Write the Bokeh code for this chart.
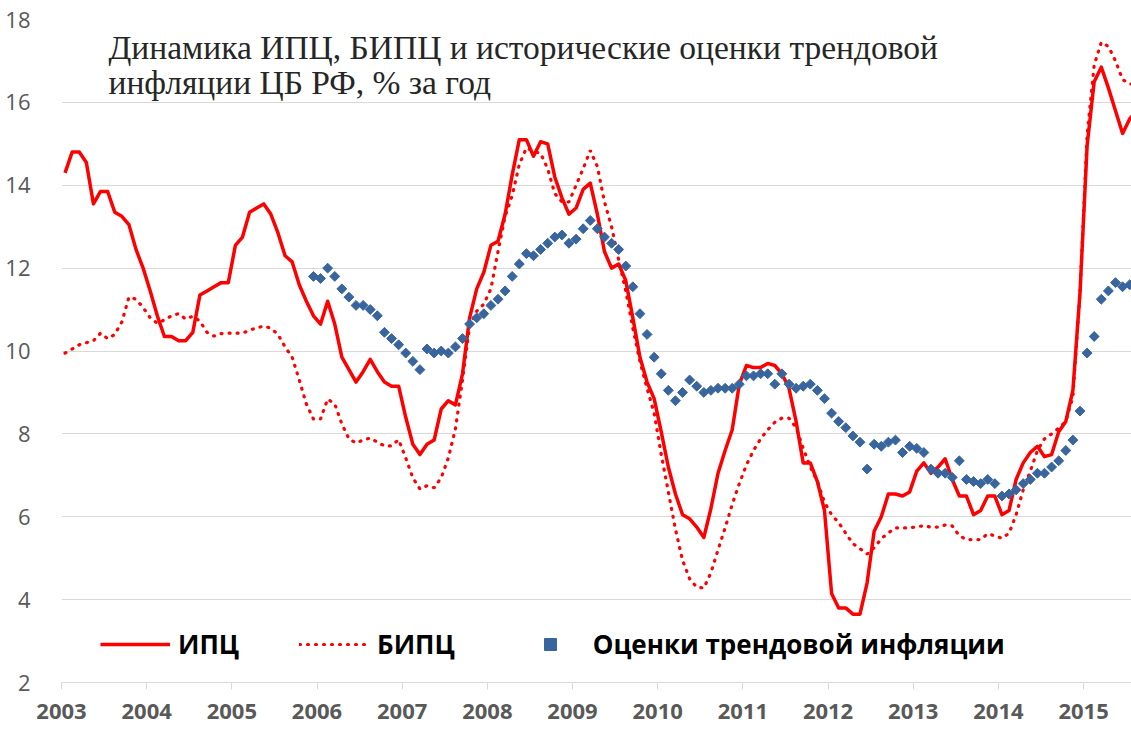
import pandas as pd
from math import pi
from bokeh.plotting import figure
from bokeh.models import FixedTicker, Legend, LegendItem, Label, Range1d
from bokeh.embed import file_html
from bokeh.resources import INLINE

# ---------------- data ----------------
title_lines = ["Динамика ИПЦ, БИПЦ и исторические оценки трендовой",
               "инфляции ЦБ РФ, % за год"]
series_names = ["ИПЦ", "БИПЦ", "Оценки трендовой инфляции"]
year_ticks = [2003, 2004, 2005, 2006, 2007, 2008, 2009, 2010, 2011, 2012, 2013, 2014, 2015]
y_ticks = [2, 4, 6, 8, 10, 12, 14, 16, 18]

cpi_start = "2003-01"      # monthly, ИПЦ and БИПЦ
trend_start = "2005-12"    # monthly, trend estimates

cpi = [
    14.3, 14.8, 14.8, 14.55, 13.55, 13.85, 13.85, 13.35, 13.25, 13.05, 12.45, 12.0,
    11.45, 10.85, 10.35, 10.35, 10.25, 10.25, 10.45, 11.35, 11.45, 11.55, 11.65, 11.65,
    12.55, 12.75, 13.35, 13.45, 13.55, 13.3, 12.85, 12.3, 12.15, 11.6, 11.2, 10.85,
    10.65, 11.2, 10.65, 9.85, 9.55, 9.25, 9.5, 9.8, 9.5, 9.25, 9.15, 9.15,
    8.4, 7.75, 7.5, 7.75, 7.85, 8.6, 8.8, 8.7, 9.45, 10.8, 11.5, 11.9,
    12.55, 12.65, 13.3, 14.25, 15.1, 15.1, 14.7, 15.05, 15.0, 14.2, 13.7, 13.3,
    13.45, 13.9, 14.05, 13.3, 12.4, 12.0, 12.1, 11.7, 10.8, 9.85, 9.25, 8.85,
    8.05, 7.2, 6.55, 6.05, 5.95, 5.75, 5.5, 6.2, 7.05, 7.6, 8.1, 9.2,
    9.65, 9.6, 9.6, 9.7, 9.65, 9.45, 9.1, 8.3, 7.3, 7.3, 6.85, 6.15,
    4.15, 3.8, 3.8, 3.65, 3.65, 4.4, 5.65, 6.0, 6.55, 6.55, 6.5, 6.6,
    7.1, 7.3, 7.05, 7.2, 7.4, 6.9, 6.5, 6.5, 6.05, 6.15, 6.5, 6.5,
    6.05, 6.15, 6.9, 7.3, 7.55, 7.7, 7.45, 7.5, 8.05, 8.3, 9.05, 11.4,
    14.95, 16.5, 16.85, 16.35, 15.8, 15.25, 15.6, 15.8,
]

bcpi = [
    9.95, 10.05, 10.15, 10.2, 10.25, 10.43, 10.3, 10.4, 10.7, 11.3, 11.25, 11.05,
    10.8, 10.67, 10.75, 10.85, 10.9, 10.77, 10.84, 10.72, 10.45, 10.36, 10.42, 10.43,
    10.43, 10.43, 10.5, 10.56, 10.6, 10.55, 10.4, 10.1, 9.85, 9.3, 8.72, 8.36,
    8.36, 8.84, 8.72, 8.24, 7.88, 7.78, 7.85, 7.9, 7.8, 7.71, 7.71, 7.86,
    7.42, 6.94, 6.67, 6.75, 6.7, 6.94, 7.42, 8.12, 9.3, 10.6, 10.96, 11.13,
    11.5, 12.4, 13.25, 13.75, 14.5, 14.9, 14.82, 14.77, 14.4, 13.8, 13.6, 13.6,
    14.0, 14.4, 14.84, 14.45, 13.6, 13.0, 12.2, 11.45, 10.55, 9.75, 9.1, 8.5,
    7.5, 6.6, 5.7, 4.95, 4.5, 4.3, 4.28, 4.65, 5.2, 5.73, 6.3, 6.8,
    7.25, 7.6, 7.88, 8.1, 8.28, 8.38, 8.38, 8.15, 7.65, 7.2, 6.85, 6.35,
    6.05, 5.86, 5.6, 5.35, 5.23, 5.1, 5.25, 5.47, 5.61, 5.73, 5.73, 5.73,
    5.76, 5.78, 5.75, 5.75, 5.8, 5.78, 5.54, 5.45, 5.45, 5.45, 5.59, 5.54,
    5.48, 5.6, 6.05, 6.65, 7.1, 7.6, 7.88, 8.0, 8.14, 8.3, 8.9, 11.4,
    15.2, 16.9, 17.45, 17.35, 17.0, 16.55, 16.45, 16.4,
]

trend = [
    11.8,
    11.75, 12.0, 11.8, 11.5, 11.3, 11.1, 11.1, 11.0, 10.85, 10.45, 10.3, 10.15,
    9.95, 9.75, 9.55, 10.05, 9.95, 10.0, 9.95, 10.1, 10.3, 10.65, 10.8, 10.9,
    11.1, 11.25, 11.45, 11.8, 12.1, 12.35, 12.3, 12.45, 12.6, 12.75, 12.8, 12.6,
    12.7, 12.95, 13.15, 12.95, 12.75, 12.6, 12.45, 12.05, 11.55, 10.9, 10.4, 9.85,
    9.45, 9.05, 8.8, 9.0, 9.3, 9.15, 9.0, 9.05, 9.1, 9.1, 9.1, 9.2,
    9.4, 9.4, 9.45, 9.45, 9.2, 9.45, 9.2, 9.1, 9.15, 9.2, 9.05, 8.85,
    8.5, 8.3, 8.15, 7.95, 7.8, 7.15, 7.75, 7.7, 7.8, 7.85, 7.55, 7.7,
    7.65, 7.55, 7.15, 7.05, 7.05, 6.95, 7.35, 6.9, 6.85, 6.8, 6.9, 6.8,
    6.5, 6.55, 6.65, 6.8, 6.9, 7.05, 7.05, 7.2, 7.35, 7.6, 7.85, 8.55,
    9.95, 10.35, 11.25, 11.45, 11.65, 11.55, 11.6, 11.85,
]


def month_positions(start, n):
    d = pd.date_range(start, periods=n, freq="MS")
    return list(d.year + (d.month - 0.5) / 12.0)


x_main = month_positions(cpi_start, len(cpi))
x_trend = month_positions(trend_start, len(trend))

# ---------------- figure ----------------
RED = "#FF0000"
BLUE = "#38659E"
GRID = "#D9D9D9"
TICK_TXT = "#595959"

p = figure(width=1131, height=729,
           x_range=Range1d(2003, 2015.563), y_range=Range1d(2, 18),
           output_backend="svg", toolbar_location=None,
           min_border_left=61, min_border_right=0,
           min_border_top=19, min_border_bottom=47)
p.outline_line_color = None
p.background_fill_color = "white"
p.border_fill_color = "white"

p.xgrid.visible = False
p.ygrid.grid_line_color = GRID
p.ygrid.grid_line_width = 1
p.ygrid.ticker = FixedTicker(ticks=y_ticks)

p.yaxis.ticker = FixedTicker(ticks=y_ticks)
p.yaxis.axis_line_color = None
p.yaxis.major_tick_line_color = None
p.yaxis.minor_tick_line_color = None
p.yaxis.major_label_standoff = 25
p.yaxis.major_label_text_font = "Open Sans"
p.yaxis.major_label_text_font_size = "22px"
p.yaxis.major_label_text_color = TICK_TXT

p.xaxis.ticker = FixedTicker(ticks=year_ticks)
p.xaxis.major_label_overrides = {y: str(y) for y in year_ticks}
p.xaxis.axis_line_color = GRID
p.xaxis.axis_line_width = 1
p.xaxis.major_tick_line_color = GRID
p.xaxis.major_tick_in = 0
p.xaxis.major_tick_out = 7
p.xaxis.minor_tick_line_color = None
p.xaxis.major_label_standoff = 14
p.xaxis.major_label_text_font = "Open Sans"
p.xaxis.major_label_text_font_style = "bold"
p.xaxis.major_label_text_font_size = "22px"
p.xaxis.major_label_text_color = TICK_TXT

r_cpi = p.line(x_main, cpi, line_color=RED, line_width=3.5, line_join="round")
r_bcpi = p.line(x_main, bcpi, line_color=RED, line_width=3.2, line_dash="1 7",
                line_cap="round")
r_trend = p.scatter(x_trend, trend, marker="square", angle=pi / 4, size=7,
                    fill_color=BLUE, line_color=BLUE)

legend = Legend(items=[LegendItem(label=series_names[0], renderers=[r_cpi]),
                       LegendItem(label=series_names[1], renderers=[r_bcpi]),
                       LegendItem(label=series_names[2], renderers=[r_trend])],
                location=(39, 20), orientation="horizontal",
                glyph_width=70, glyph_height=30, label_standoff=8, spacing=60,
                padding=0, margin=0, border_line_alpha=0, background_fill_alpha=0,
                label_text_font="Open Sans", label_text_font_style="bold",
                label_text_font_size="26px", label_text_color="black")
p.add_layout(legend)

for i, line in enumerate(title_lines):
    p.add_layout(Label(x=47, y=635 - 35 * i, x_units="screen", y_units="screen",
                       text=line, text_font="Liberation Serif", text_font_size="33.5px",
                       text_color="#262626", text_baseline="alphabetic"))

open("out.html", "w").write(file_html(p, INLINE))
